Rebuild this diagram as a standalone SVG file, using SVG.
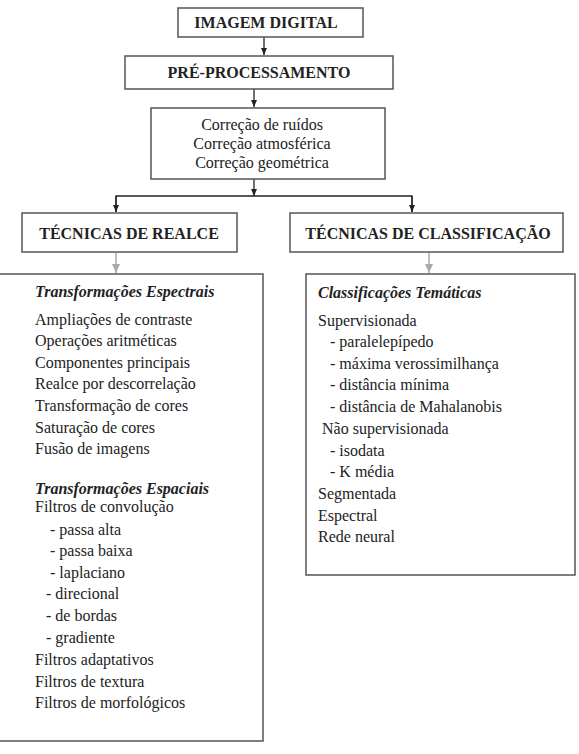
<svg xmlns="http://www.w3.org/2000/svg" width="579" height="754" viewBox="0 0 579 754">
<style>
.box{fill:#fff;stroke:#555;stroke-width:1.5}
.t{font-family:'Liberation Serif','Times New Roman',Tinos,'DejaVu Serif',serif;font-size:16px;fill:#222}
.b{font-weight:bold;text-anchor:middle}
.i{font-style:italic;font-weight:bold}
.c{text-anchor:middle}
.k{stroke:#222;stroke-width:1.3;fill:none}
.g{stroke:#aaa;stroke-width:1.5;fill:none}
</style>
<defs>
<marker id="ak" markerWidth="8" markerHeight="8" refX="7" refY="4" orient="auto" markerUnits="userSpaceOnUse"><path d="M0,1 L7,4 L0,7 Z" fill="#222"/></marker>
<marker id="ag" markerWidth="10" markerHeight="10" refX="9" refY="5" orient="auto" markerUnits="userSpaceOnUse"><path d="M0,1 L9,5 L0,9 Z" fill="#aaa"/></marker>
</defs>
<rect width="579" height="754" fill="#fff"/>
<g id="connectors">
<line class="k" x1="264" y1="37" x2="264" y2="55" marker-end="url(#ak)"/>
<line class="k" x1="254" y1="89" x2="254" y2="107" marker-end="url(#ak)"/>
<line class="k" x1="254" y1="179" x2="254" y2="196" marker-end="url(#ak)"/>
<polyline class="k" points="116,212 116,196 412,196 412,212"/>
<line class="k" x1="116" y1="196" x2="116" y2="212" marker-end="url(#ak)"/>
<line class="k" x1="412" y1="196" x2="412" y2="212" marker-end="url(#ak)"/>
<line class="g" x1="116" y1="253" x2="116" y2="273" marker-end="url(#ag)"/>
<line class="g" x1="429" y1="253" x2="429" y2="273" marker-end="url(#ag)"/>
</g>
<g id="imagem-digital">
<rect class="box" x="178" y="8" width="185" height="29"/>
<text class="t b" x="266" y="28">IMAGEM DIGITAL</text>
</g>
<g id="pre-processamento">
<rect class="box" x="125" y="56" width="268" height="33"/>
<text class="t b" x="259" y="78">PRÉ-PROCESSAMENTO</text>
</g>
<g id="correcoes">
<rect class="box" x="151" y="108" width="234" height="71"/>
<text class="t c" x="262" y="130">Correção de ruídos</text>
<text class="t c" x="262" y="149">Correção atmosférica</text>
<text class="t c" x="262" y="168">Correção geométrica</text>
</g>
<g id="tecnicas-realce">
<rect class="box" x="22" y="213" width="215" height="39"/>
<text class="t b" x="129" y="239">TÉCNICAS DE REALCE</text>
</g>
<g id="tecnicas-classificacao">
<rect class="box" x="290" y="213" width="273" height="39"/>
<text class="t b" x="428" y="239">TÉCNICAS DE CLASSIFICAÇÃO</text>
</g>
<g id="realce-lista">
<rect class="box" x="-2" y="274" width="265" height="467"/>
<text class="t i" x="35" y="297">Transformações Espectrais</text>
<text class="t" x="35" y="325">Ampliações de contraste</text>
<text class="t" x="35" y="346">Operações aritméticas</text>
<text class="t" x="35" y="368">Componentes principais</text>
<text class="t" x="35" y="389">Realce por descorrelação</text>
<text class="t" x="35" y="411">Transformação de cores</text>
<text class="t" x="35" y="433">Saturação de cores</text>
<text class="t" x="35" y="454">Fusão de imagens</text>
<text class="t i" x="35" y="494">Transformações Espaciais</text>
<text class="t" x="35" y="512">Filtros de convolução</text>
<text class="t" x="50" y="535">- passa alta</text>
<text class="t" x="50" y="556">- passa baixa</text>
<text class="t" x="50" y="578">- laplaciano</text>
<text class="t" x="46" y="599">- direcional</text>
<text class="t" x="46" y="621">- de bordas</text>
<text class="t" x="46" y="643">- gradiente</text>
<text class="t" x="35" y="665">Filtros adaptativos</text>
<text class="t" x="35" y="687">Filtros de textura</text>
<text class="t" x="35" y="708">Filtros de morfológicos</text>
</g>
<g id="classificacao-lista">
<rect class="box" x="306" y="274" width="269" height="301"/>
<text class="t i" x="318" y="298">Classificações Temáticas</text>
<text class="t" x="318" y="326">Supervisionada</text>
<text class="t" x="330" y="347">- paralelepípedo</text>
<text class="t" x="330" y="369">- máxima verossimilhança</text>
<text class="t" x="330" y="390">- distância mínima</text>
<text class="t" x="330" y="412">- distância de Mahalanobis</text>
<text class="t" x="322" y="434">Não supervisionada</text>
<text class="t" x="330" y="456">- isodata</text>
<text class="t" x="330" y="477">- K média</text>
<text class="t" x="318" y="499">Segmentada</text>
<text class="t" x="318" y="521">Espectral</text>
<text class="t" x="318" y="542">Rede neural</text>
</g>
</svg>
